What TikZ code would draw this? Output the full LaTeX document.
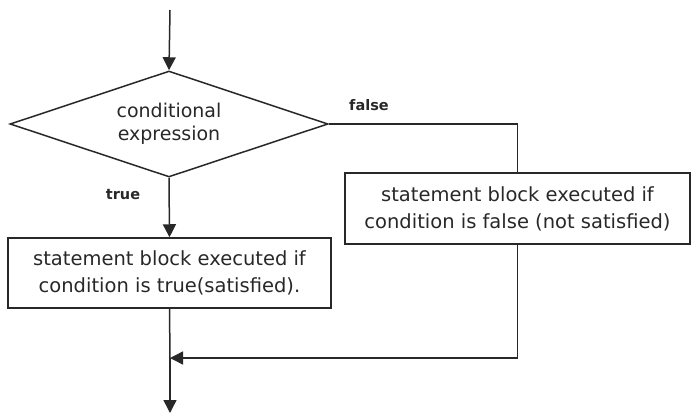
\documentclass[tikz,border=0pt]{standalone}
\usepackage{fontspec}
\setmainfont{DejaVu Sans}
\usetikzlibrary{shapes.geometric,arrows.meta}

\definecolor{inkgray}{RGB}{40,40,40}
\tikzset{
  decision/.style={diamond, draw, inner sep=0pt, shape aspect=3,
    minimum width=318pt, minimum height=106pt,
    align=center, font=\fontsize{19}{23}\selectfont},
  stmtbox/.style={rectangle, draw, inner sep=0pt, align=center,
    font=\fontsize{19.5}{27}\selectfont},
  branchlabel/.style={font=\bfseries\fontsize{14.5}{16}\selectfont}
}

\begin{document}
\begin{tikzpicture}[x=1pt,y=-1pt,line width=1.5pt,draw=inkgray,text=inkgray,
  >={Triangle[length=13pt,width=13pt]}]
\useasboundingbox (0,0) rectangle (691,415);
% blocks
\node[decision] (cond) at (169,124) {conditional\\expression};
\node[stmtbox, minimum width=323pt, minimum height=70pt] (truebox) at (169.5,273)
  {statement block executed if\\condition is true(satisfied).};
\node[stmtbox, minimum width=345pt, minimum height=71pt] (falsebox) at (517.5,208.5)
  {statement block executed if\\condition is false (not satisfied)};
% free ends
\coordinate (start) at (170,10);
\coordinate (merge) at (170,358);
\coordinate (stop) at (170,413);
% connectors
\draw[->] (start) -- (cond.north);
\draw[->] (cond.south) -- (truebox.north);
\draw (cond.east) -| (falsebox.north);
\draw (truebox.south) -- (merge);
\draw[->] (falsebox.south) |- (merge);
\draw[->] (merge) -- (stop);
% labels
\node[branchlabel] (truelbl) at (123,195) {true};
\node[branchlabel] (falselbl) at (369,105) {false};
\end{tikzpicture}
\end{document}
